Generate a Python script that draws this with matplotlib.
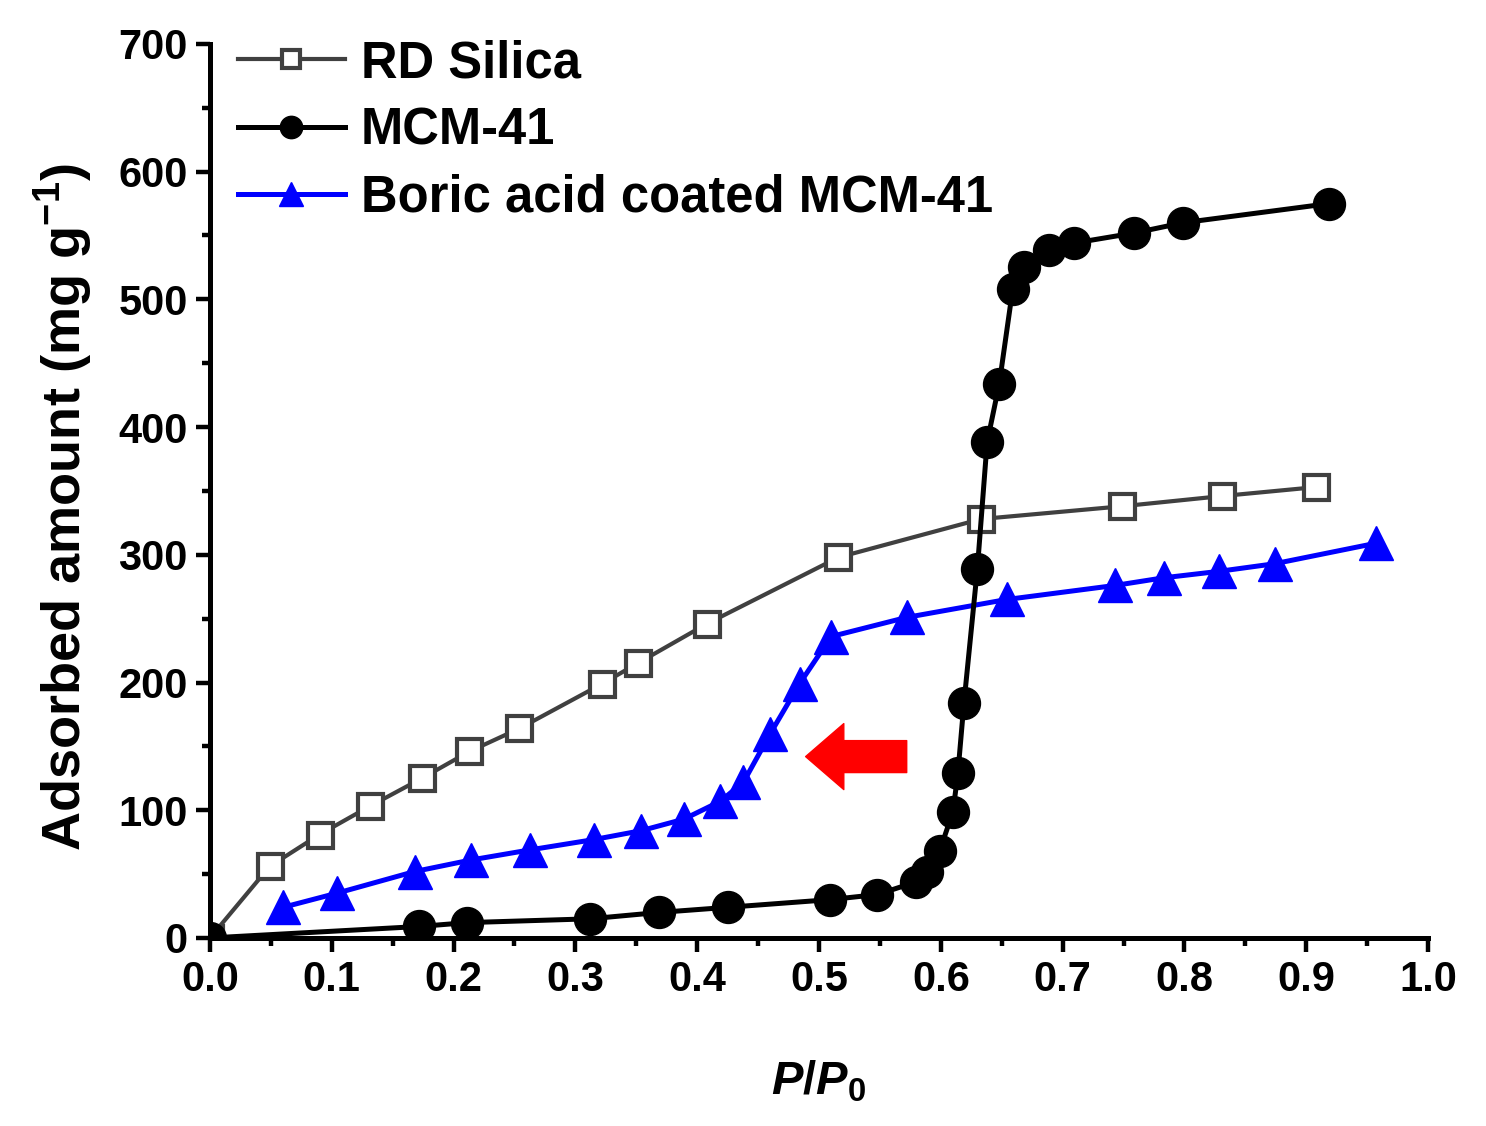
import matplotlib
matplotlib.use("Agg")
import matplotlib.pyplot as plt
from matplotlib.ticker import MultipleLocator, FormatStrFormatter

plt.rcParams['font.family'] = ['Liberation Sans', 'DejaVu Sans']
plt.rcParams['font.weight'] = 'bold'
plt.rcParams['axes.labelweight'] = 'bold'
plt.rcParams['mathtext.fontset'] = 'custom'
plt.rcParams['mathtext.rm'] = 'Liberation Sans:bold'
plt.rcParams['mathtext.it'] = 'Liberation Sans:italic:bold'
plt.rcParams['mathtext.bf'] = 'Liberation Sans:bold'

# RD Silica
rd_x = [0.0, 0.049, 0.090, 0.131, 0.174, 0.213, 0.254, 0.322, 0.351, 0.408,
        0.516, 0.633, 0.749, 0.831, 0.908]
rd_y = [0, 56, 81, 103, 125, 146, 164, 199, 215, 246, 298, 328, 338, 346, 353]

# MCM-41
mcm_x = [0.0, 0.172, 0.211, 0.312, 0.369, 0.425, 0.509, 0.548, 0.580, 0.589,
         0.599, 0.610, 0.614, 0.619, 0.630, 0.638, 0.648, 0.659, 0.668, 0.689,
         0.709, 0.759, 0.799, 0.919]
mcm_y = [0, 9, 12, 15, 20, 24, 30, 34, 44, 52, 68, 99, 129, 184, 289, 388,
         434, 508, 525, 539, 544, 552, 560, 575]

# Boric acid coated MCM-41
ba_x = [0.060, 0.104, 0.168, 0.214, 0.263, 0.315, 0.354, 0.389, 0.419, 0.438,
        0.460, 0.484, 0.510, 0.572, 0.654, 0.743, 0.783, 0.828, 0.874, 0.957]
ba_y = [24, 35, 52, 61, 69, 77, 84, 93, 107, 122, 160, 199, 236, 251, 265,
        276, 282, 287, 293, 309]

fig = plt.figure(figsize=(14.86, 11.26), dpi=100)
ax = fig.add_axes([0.1413, 0.167, 0.8197, 0.794])

ax.plot(rd_x, rd_y, color='#404040', lw=3, marker='s', ms=18,
        mfc='white', mec='#404040', mew=3, label='RD Silica', zorder=3)
ax.plot(mcm_x, mcm_y, color='black', lw=3.6, marker='o', ms=23,
        mfc='black', mec='black', label='MCM-41', zorder=4)
ax.plot(ba_x, ba_y, color='#0000FF', lw=3.6, marker='^', ms=24,
        mfc='#0000FF', mec='#0000FF', label='Boric acid coated MCM-41', zorder=3)

# red arrow
ax.annotate('', xy=(0.489, 142), xytext=(0.572, 142),
            arrowprops=dict(arrowstyle='simple,head_length=0.55,head_width=0.95,tail_width=0.46',
                            color='#FF0000', shrinkA=0, shrinkB=0, mutation_scale=50))

ax.set_xlim(0, 1.0)
ax.set_ylim(0, 700)
ax.xaxis.set_major_locator(MultipleLocator(0.1))
ax.xaxis.set_minor_locator(MultipleLocator(0.05))
ax.yaxis.set_major_locator(MultipleLocator(100))
ax.yaxis.set_minor_locator(MultipleLocator(50))
ax.xaxis.set_major_formatter(FormatStrFormatter('%.1f'))

for s in ['top', 'right']:
    ax.spines[s].set_visible(False)
for s in ['left', 'bottom']:
    ax.spines[s].set_linewidth(3.6)
ax.tick_params(which='major', direction='out', length=10, width=3.2,
               labelsize=30, pad=6)
ax.tick_params(which='minor', direction='out', length=6, width=3.2)

ax.set_xlabel(r'$\mathit{P}$/$\mathit{P}_\mathrm{0}$', fontsize=34, labelpad=42)
ax.set_ylabel(r'Adsorbed amount (mg g$^\mathrm{-1}$)', fontsize=39)
ax.yaxis.set_label_coords(-0.094, 0.482)

ax.legend(loc='upper left', bbox_to_anchor=(-0.006, 1.045), frameon=False,
          fontsize=36.5, handlelength=2.1, markerscale=0.7,
          labelspacing=0.36, handletextpad=0.32, borderaxespad=0.3)

fig.savefig('out.png', dpi=100)
